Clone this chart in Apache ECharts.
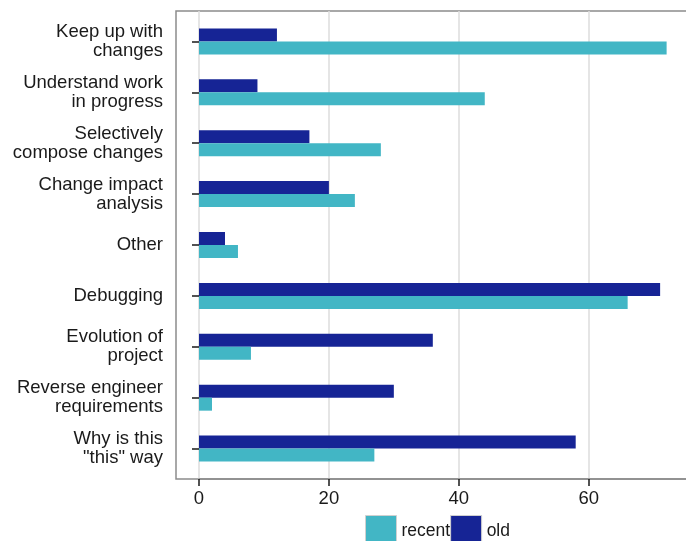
<!DOCTYPE html>
<html><head><meta charset="utf-8">
<script src="https://cdn.jsdelivr.net/npm/echarts@6/dist/echarts.min.js"></script>
<style>html,body{margin:0;padding:0;background:#fff}#c{width:686px;height:541px}</style>
</head><body><div id="c"></div>
<script>
const categories = ['Keep up with\nchanges','Understand work\nin progress','Selectively\ncompose changes','Change impact\nanalysis','Other','Debugging','Evolution of\nproject','Reverse engineer\nrequirements','Why is this\n"this" way'];
const recentValues = [72, 44, 28, 24, 6, 66, 8, 2, 27];
const oldValues = [12, 9, 17, 20, 4, 71, 36, 30, 58];
const xTickStep = 20;
const legendNames = ['recent', 'old'];

const FONT = '"Liberation Sans", Arial, Helvetica, sans-serif';
const RECENT = '#42b6c5';
const OLD = '#162495';
const TXT = '#1a1a1a';
const FRAME = '#8c8c8c';
const XMAX = 75.6;

const chart = echarts.init(document.getElementById('c'), null, {renderer: 'canvas'});
const option = {
  animation: false,
  textStyle: {fontFamily: FONT},
  grid: [
    {left: 176, right: -2, top: 11, bottom: 62, show: true, borderColor: FRAME, borderWidth: 1.5, backgroundColor: 'transparent', outerBoundsMode: 'none', containLabel: false},
    {left: 199, right: -4, top: 16, bottom: 67, outerBoundsMode: 'none', containLabel: false},
    {left: 199, right: -4, top: 11, bottom: 62, outerBoundsMode: 'none', containLabel: false}
  ],
  xAxis: [
    {gridIndex: 0, type: 'value', show: false},
    {gridIndex: 1, type: 'value', min: 0, max: XMAX, show: false},
    {gridIndex: 2, type: 'value', min: 0, max: XMAX, interval: xTickStep, position: 'bottom',
     axisLine: {show: true, lineStyle: {color: FRAME, width: 1.5}},
     axisTick: {show: true, length: 7, lineStyle: {color: TXT, width: 1.5}},
     axisLabel: {show: true, showMaxLabel: false, fontSize: 18.5, color: TXT, margin: 10, fontFamily: FONT},
     splitLine: {show: true, showMaxLine: false, lineStyle: {color: '#dcdcdc', width: 1.5}}}
  ],
  yAxis: [
    {gridIndex: 0, type: 'value', show: false},
    {gridIndex: 1, type: 'category', data: categories, inverse: true, offset: 23,
     axisLine: {show: false},
     axisTick: {show: true, alignWithLabel: true, length: 7, lineStyle: {color: TXT, width: 1.5}},
     axisLabel: {fontSize: 18.5, lineHeight: 19, color: TXT, margin: 13, align: 'right', fontFamily: FONT},
     splitLine: {show: false}},
    {gridIndex: 2, type: 'value', show: false}
  ],
  legend: {
    data: legendNames, left: 365, top: 515, padding: 0, orient: 'horizontal',
    itemWidth: 31, itemHeight: 31, itemGap: 0, icon: 'rect',
    itemStyle: {borderColor: '#d0d0d0', borderWidth: 1},
    textStyle: {fontSize: 17.5, color: TXT, fontFamily: FONT}
  },
  series: [
    {name: 'old', type: 'bar', xAxisIndex: 1, yAxisIndex: 1, data: oldValues, barWidth: 13, barGap: '0%', itemStyle: {color: OLD}},
    {name: 'recent', type: 'bar', xAxisIndex: 1, yAxisIndex: 1, data: recentValues, barWidth: 13, barGap: '0%', itemStyle: {color: RECENT}}
  ]
};
chart.setOption(option);
</script></body></html>
